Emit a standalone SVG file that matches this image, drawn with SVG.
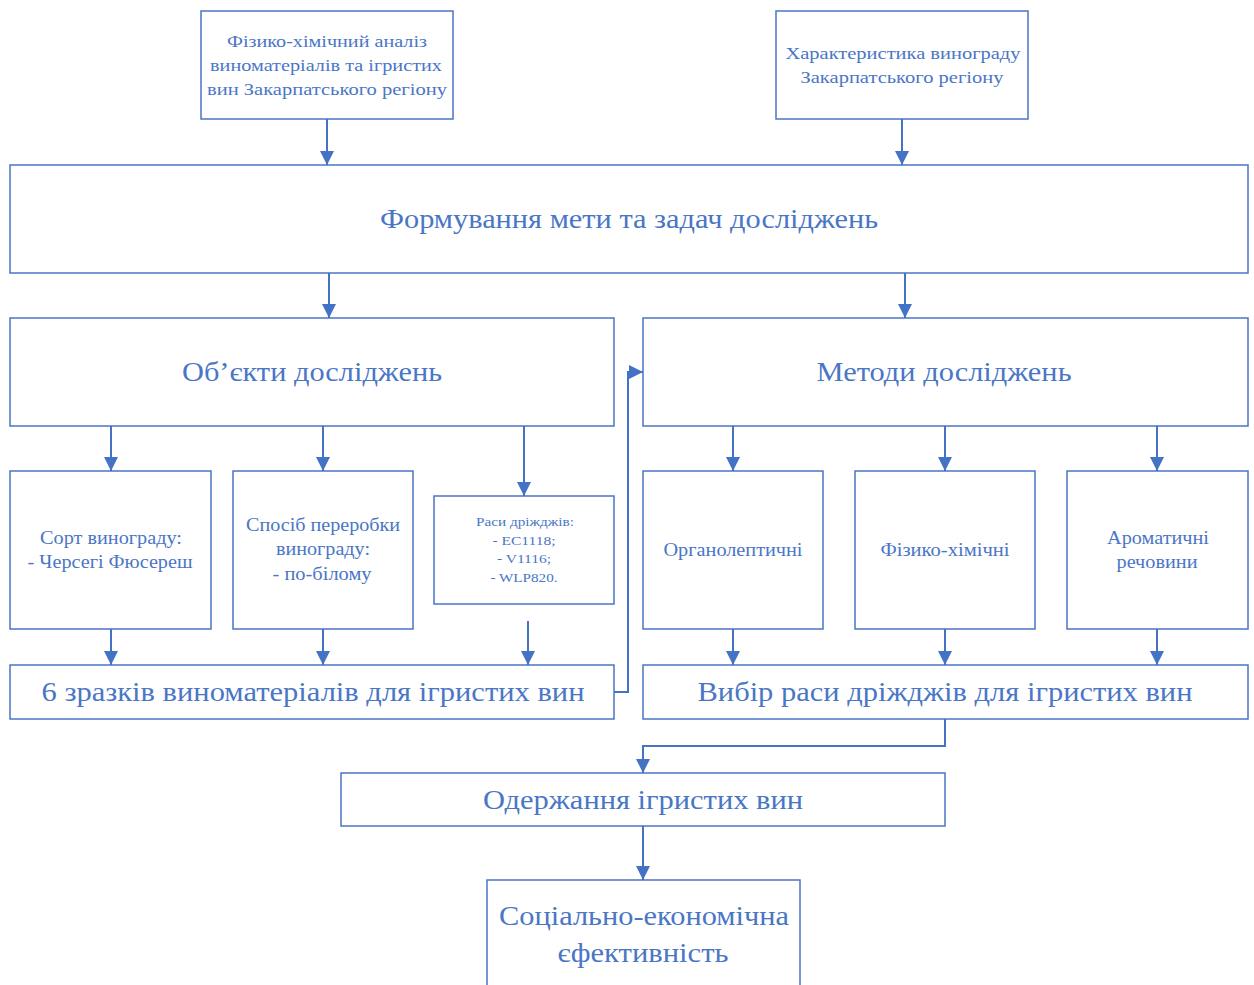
<svg xmlns="http://www.w3.org/2000/svg" width="1254" height="985" viewBox="0 0 1254 985">
<defs>
<marker id="ah" viewBox="0 0 10 10" refX="10" refY="5" markerWidth="14" markerHeight="14" markerUnits="userSpaceOnUse" orient="auto">
<path d="M0,0 L10,5 L0,10 Z" fill="#4472C4"/>
</marker>
<style>
.b{fill:#fff;stroke:#4a76c6;stroke-width:1.5}
.t{font-family:"Liberation Serif","Times New Roman",serif;fill:#4a76c6;text-anchor:middle}
.s{font-size:17px}
.m{font-size:18px}
.l{font-size:27px}
.x{font-size:13.5px}
.c{fill:none;stroke:#4472C4;stroke-width:2;marker-end:url(#ah)}
</style>
</defs>
<rect width="1254" height="985" fill="#fff"/>
<g id="n1"><rect class="b" x="201" y="11" width="252" height="108"/>
<text class="t s" x="327" y="47" textLength="200" lengthAdjust="spacingAndGlyphs">Фізико-хімічний аналіз</text>
<text class="t s" x="326" y="71" textLength="232" lengthAdjust="spacingAndGlyphs">виноматеріалів та ігристих</text>
<text class="t s" x="327" y="95" textLength="240" lengthAdjust="spacingAndGlyphs">вин Закарпатського регіону</text></g>
<g id="n2"><rect class="b" x="776" y="11" width="252" height="108"/>
<text class="t s" x="903" y="59" textLength="235" lengthAdjust="spacingAndGlyphs">Характеристика винограду</text>
<text class="t s" x="902" y="83" textLength="203" lengthAdjust="spacingAndGlyphs">Закарпатського регіону</text></g>
<g id="n3"><rect class="b" x="10" y="165" width="1238" height="108"/>
<text class="t l" x="629" y="228" textLength="498" lengthAdjust="spacingAndGlyphs">Формування мети та задач досліджень</text></g>
<g id="n4"><rect class="b" x="10" y="318" width="604" height="108"/>
<text class="t l" x="312" y="381" textLength="260" lengthAdjust="spacingAndGlyphs">Об’єкти досліджень</text></g>
<g id="n5"><rect class="b" x="643" y="318" width="605" height="108"/>
<text class="t l" x="944" y="381" textLength="255" lengthAdjust="spacingAndGlyphs">Методи досліджень</text></g>
<g id="n6"><rect class="b" x="10" y="471" width="201" height="158"/>
<text class="t m" x="111" y="544" textLength="142" lengthAdjust="spacingAndGlyphs">Сорт винограду:</text>
<text class="t m" x="110" y="568" textLength="165" lengthAdjust="spacingAndGlyphs">- Черсегі Фюсереш</text></g>
<g id="n7"><rect class="b" x="233" y="471" width="180" height="158"/>
<text class="t m" x="323" y="531" textLength="154" lengthAdjust="spacingAndGlyphs">Спосіб переробки</text>
<text class="t m" x="323" y="555" textLength="94" lengthAdjust="spacingAndGlyphs">винограду:</text>
<text class="t m" x="322" y="580" textLength="99" lengthAdjust="spacingAndGlyphs">- по-білому</text></g>
<g id="n8"><rect class="b" x="434" y="496" width="180" height="108"/>
<text class="t x" x="525" y="526" textLength="98" lengthAdjust="spacingAndGlyphs">Раси дріжджів:</text>
<text class="t x" x="524" y="545" textLength="63" lengthAdjust="spacingAndGlyphs">- EC1118;</text>
<text class="t x" x="524" y="563" textLength="54" lengthAdjust="spacingAndGlyphs">- V1116;</text>
<text class="t x" x="524" y="582" textLength="67" lengthAdjust="spacingAndGlyphs">- WLP820.</text></g>
<g id="n9"><rect class="b" x="643" y="471" width="180" height="158"/>
<text class="t m" x="733" y="556" textLength="139" lengthAdjust="spacingAndGlyphs">Органолептичні</text></g>
<g id="n10"><rect class="b" x="855" y="471" width="180" height="158"/>
<text class="t m" x="945" y="556" textLength="129" lengthAdjust="spacingAndGlyphs">Фізико-хімічні</text></g>
<g id="n11"><rect class="b" x="1067" y="471" width="181" height="158"/>
<text class="t m" x="1158" y="544" textLength="102" lengthAdjust="spacingAndGlyphs">Ароматичні</text>
<text class="t m" x="1157" y="568" textLength="81" lengthAdjust="spacingAndGlyphs">речовини</text></g>
<g id="n12"><rect class="b" x="10" y="665" width="604" height="54"/>
<text class="t l" x="313" y="701" textLength="543" lengthAdjust="spacingAndGlyphs">6 зразків виноматеріалів для ігристих вин</text></g>
<g id="n13"><rect class="b" x="643" y="665" width="605" height="54"/>
<text class="t l" x="945" y="701" textLength="495" lengthAdjust="spacingAndGlyphs">Вибір раси дріжджів для ігристих вин</text></g>
<g id="n14"><rect class="b" x="341" y="773" width="604" height="53"/>
<text class="t l" x="643" y="809" textLength="320" lengthAdjust="spacingAndGlyphs">Одержання ігристих вин</text></g>
<g id="n15"><path class="b" d="M487,986 V880 H800 V986"/>
<text class="t l" x="644" y="925" textLength="290" lengthAdjust="spacingAndGlyphs">Соціально-економічна</text>
<text class="t l" x="643" y="962" textLength="171" lengthAdjust="spacingAndGlyphs">єфективність</text></g>
<g id="connectors">
<path class="c" d="M327,119 V165"/>
<path class="c" d="M902,119 V165"/>
<path class="c" d="M329,273 V318"/>
<path class="c" d="M905,273 V318"/>
<path class="c" d="M111,426 V471"/>
<path class="c" d="M323,426 V471"/>
<path class="c" d="M524,426 V496"/>
<path class="c" d="M111,629 V665"/>
<path class="c" d="M323,629 V665"/>
<path class="c" d="M528,621 V665"/>
<path class="c" d="M733,426 V471"/>
<path class="c" d="M945,426 V471"/>
<path class="c" d="M1157,426 V471"/>
<path class="c" d="M733,629 V665"/>
<path class="c" d="M945,629 V665"/>
<path class="c" d="M1157,629 V665"/>
<path class="c" d="M614,692 H628 V372 H643"/>
<path class="c" d="M945,719 V746 H643 V773"/>
<path class="c" d="M643,826 V880"/>
</g>
</svg>
